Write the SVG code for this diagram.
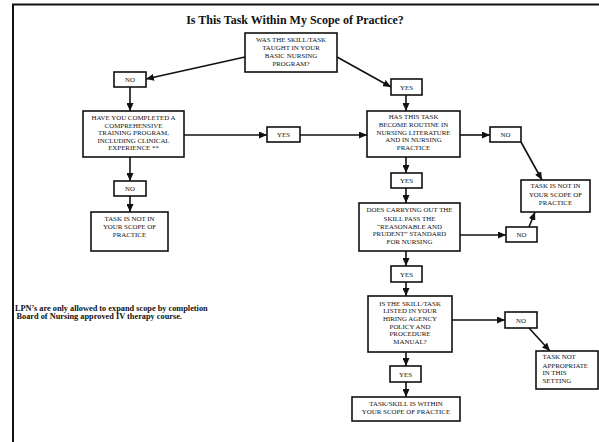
<svg xmlns="http://www.w3.org/2000/svg" width="599" height="442" viewBox="0 0 599 442">
<style>
.bx{fill:#fff;stroke:#111;stroke-width:1.6}
.t{font-family:"Liberation Serif","Times New Roman",serif;font-size:6.9px;fill:#111;text-anchor:middle}
.tl{font-family:"Liberation Serif","Times New Roman",serif;font-size:6.9px;fill:#111}
.c{stroke:#111;stroke-width:1.6;fill:none;marker-end:url(#ah)}
</style>
<defs>
<marker id="ah" markerUnits="userSpaceOnUse" markerWidth="8" markerHeight="7" refX="8" refY="3.5" orient="auto">
<path d="M0,0 L8,3.5 L0,7 z" fill="#111"/>
</marker>
</defs>
<rect width="599" height="442" fill="#fff"/>
<path d="M13,442 V4.5 H599" fill="none" stroke="#111" stroke-width="2"/>
<text x="295" y="24" font-family="Liberation Serif,serif" font-size="12" font-weight="bold" text-anchor="middle" fill="#111">Is This Task Within My Scope of Practice?</text>
<text font-family="Liberation Serif,serif" font-size="8.3" font-weight="bold" fill="#111"><tspan x="15" y="310.5">LPN’s are only allowed to expand scope by completion</tspan><tspan x="16.5" y="319">Board of Nursing approved IV therapy course.</tspan></text>

<g id="connectors">
<line class="c" x1="245" y1="57" x2="146" y2="79"/>
<line class="c" x1="130" y1="87" x2="130" y2="111"/>
<line class="c" x1="337" y1="57" x2="391" y2="87"/>
<line class="c" x1="406" y1="95" x2="406" y2="111"/>
<line class="c" x1="184" y1="135" x2="267" y2="135"/>
<line class="c" x1="300" y1="135" x2="367" y2="135"/>
<line class="c" x1="460" y1="135" x2="490" y2="135"/>
<line class="c" x1="521" y1="142" x2="542" y2="180"/>
<line class="c" x1="130" y1="157" x2="130" y2="181"/>
<line class="c" x1="130" y1="196" x2="130" y2="212"/>
<line class="c" x1="406" y1="157" x2="406" y2="173"/>
<line class="c" x1="406" y1="188" x2="406" y2="203"/>
<line class="c" x1="460" y1="235" x2="506" y2="235"/>
<line class="c" x1="529" y1="227" x2="535" y2="212"/>
<line class="c" x1="406" y1="251" x2="406" y2="266"/>
<line class="c" x1="406" y1="282" x2="406" y2="296"/>
<line class="c" x1="452" y1="320" x2="505" y2="320"/>
<line class="c" x1="529" y1="328" x2="550" y2="351"/>
<line class="c" x1="406" y1="352" x2="406" y2="366"/>
<line class="c" x1="406" y1="382" x2="406" y2="397"/>
</g>

<g id="q1"><rect class="bx" x="245" y="33" width="92" height="39"/>
<text class="t"><tspan x="291" y="41.7">WAS THE SKILL/TASK</tspan><tspan x="291" y="50">TAUGHT IN YOUR</tspan><tspan x="291" y="57.7">BASIC NURSING</tspan><tspan x="291" y="65.7">PROGRAM?</tspan></text></g>

<g id="no1"><rect class="bx" x="114" y="72" width="32" height="15"/><text class="t" x="130" y="82.3">NO</text></g>
<g id="yes1"><rect class="bx" x="391" y="79" width="31" height="16"/><text class="t" x="406.5" y="89.5">YES</text></g>

<g id="q2"><rect class="bx" x="83" y="111" width="101" height="46"/>
<text class="t"><tspan x="133.5" y="120">HAVE YOU COMPLETED A</tspan><tspan x="133.5" y="127.7">COMPREHENSIVE</tspan><tspan x="133.5" y="135.3">TRAINING PROGRAM,</tspan><tspan x="133.5" y="142.8">INCLUDING CLINICAL</tspan><tspan x="133.5" y="150.3">EXPERIENCE **</tspan></text></g>

<g id="yesmid"><rect class="bx" x="267" y="127" width="33" height="15"/><text class="t" x="283.5" y="137.3">YES</text></g>

<g id="q3"><rect class="bx" x="367" y="111" width="93" height="46"/>
<text class="t"><tspan x="413.5" y="119">HAS THIS TASK</tspan><tspan x="413.5" y="127">BECOME ROUTINE IN</tspan><tspan x="413.5" y="134.7">NURSING LITERATURE</tspan><tspan x="413.5" y="142.3">AND IN NURSING</tspan><tspan x="413.5" y="150">PRACTICE</tspan></text></g>

<g id="noR1"><rect class="bx" x="490" y="127" width="31" height="15"/><text class="t" x="505.5" y="137.3">NO</text></g>

<g id="notScopeR"><rect class="bx" x="521" y="180" width="69" height="32"/>
<text class="t"><tspan x="555.5" y="188.3">TASK IS NOT IN</tspan><tspan x="555.5" y="196.7">YOUR SCOPE OF</tspan><tspan x="555.5" y="205">PRACTICE</tspan></text></g>

<g id="no2"><rect class="bx" x="114" y="181" width="32" height="15"/><text class="t" x="130" y="191.3">NO</text></g>

<g id="notScopeL"><rect class="bx" x="91" y="212" width="77" height="39"/>
<text class="t"><tspan x="129.5" y="221">TASK IS NOT IN</tspan><tspan x="129.5" y="229">YOUR SCOPE OF</tspan><tspan x="129.5" y="236.7">PRACTICE</tspan></text></g>

<g id="yes2"><rect class="bx" x="391" y="173" width="31" height="15"/><text class="t" x="406.5" y="183.3">YES</text></g>

<g id="q4"><rect class="bx" x="359" y="203" width="101" height="48"/>
<text class="t"><tspan x="409.5" y="212.3">DOES CARRYING OUT THE</tspan><tspan x="409.5" y="220.7">SKILL PASS THE</tspan><tspan x="409.5" y="228.7">“REASONABLE AND</tspan><tspan x="409.5" y="236.3">PRUDENT” STANDARD</tspan><tspan x="409.5" y="244">FOR NURSING</tspan></text></g>

<g id="no3"><rect class="bx" x="506" y="227" width="31" height="15"/><text class="t" x="521.5" y="237.3">NO</text></g>
<g id="yes3"><rect class="bx" x="391" y="266" width="31" height="16"/><text class="t" x="406.5" y="276.5">YES</text></g>

<g id="q5"><rect class="bx" x="368" y="296" width="84" height="56"/>
<text class="t"><tspan x="410" y="305.7">IS THE SKILL/TASK</tspan><tspan x="410" y="313.3">LISTED IN YOUR</tspan><tspan x="410" y="321">HIRING AGENCY</tspan><tspan x="410" y="328.7">POLICY AND</tspan><tspan x="410" y="336.3">PROCEDURE</tspan><tspan x="410" y="344.3">MANUAL?</tspan></text></g>

<g id="no4"><rect class="bx" x="505" y="312" width="32" height="16"/><text class="t" x="521" y="322.5">NO</text></g>

<g id="notAppropriate"><rect class="bx" x="536" y="351" width="62" height="38"/>
<text class="tl"><tspan x="542.5" y="359.3">TASK NOT</tspan><tspan x="542.5" y="367.7">APPROPRIATE</tspan><tspan x="542.5" y="375.3">IN THIS</tspan><tspan x="542.5" y="383.3">SETTING</tspan></text></g>

<g id="yes4"><rect class="bx" x="390" y="366" width="31" height="16"/><text class="t" x="405.5" y="376.5">YES</text></g>

<g id="within"><rect class="bx" x="352" y="397" width="108" height="24"/>
<text class="t"><tspan x="406" y="405.7">TASK/SKILL IS WITHIN</tspan><tspan x="406" y="414.3">YOUR SCOPE OF PRACTICE</tspan></text></g>
</svg>
